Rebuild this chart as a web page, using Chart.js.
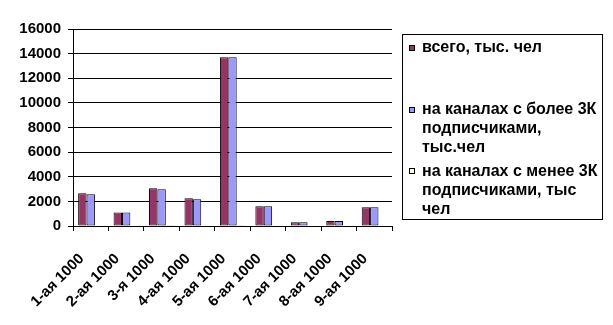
<!DOCTYPE html>
<html>
<head>
<meta charset="utf-8">
<script src="https://cdn.jsdelivr.net/npm/chart.js@4"></script>
<style>
  html, body { margin: 0; padding: 0; background: #fff; }
</style>
</head>
<body>
<canvas id="audience_chart" width="613" height="325"></canvas>
<script>
// данные по тысячам каналов
const categories = ["1-ая 1000", "2-ая 1000", "3-я 1000", "4-ая 1000", "5-ая 1000",
                    "6-ая 1000", "7-ая 1000", "8-ая 1000", "9-ая 1000"];
const seriesNames = ["всего, тыс. чел",
                     "на каналах с более 3К подписчиками, тыс.чел",
                     "на каналах с менее 3К подписчиками, тыс чел"];
const totalVals = [2650, 1100, 3060, 2250, 13700, 1600, 300, 400, 1520];
const bigVals   = [2580, 1100, 2980, 2170, 13700, 1600, 300, 400, 1520];
const smallVals = [0, 0, 60, 0, 60, 50, 0, 0, 0];
const yTicks = [0, 2000, 4000, 6000, 8000, 10000, 12000, 14000, 16000];
const colors = ["#993366", "#9999FF", "#FFFFCC"];

const FONT = "'Liberation Sans', Arial, sans-serif";

// легенда в рамке справа, как в Excel
const boxLegend = {
    id: "boxLegend",
    afterDraw(chart) {
        const ctx = chart.ctx;
        const left = 402, top = 34, right = 602, bottom = 219;
        ctx.save();
        ctx.strokeStyle = "#000";
        ctx.lineWidth = 1;
        ctx.strokeRect(left + 0.5, top + 0.5, right - left, bottom - top);
        ctx.font = "bold 16px " + FONT;
        ctx.textBaseline = "middle";
        ctx.fillStyle = "#000";
        const slot = (bottom - top) / chart.data.datasets.length;
        const maxW = right - 422 - 2;
        chart.data.datasets.forEach(function (ds, i) {
            // перенос по словам
            let lines = [], cur = "";
            ds.label.split(" ").forEach(function (w) {
                let t = cur ? cur + " " + w : w;
                if (ctx.measureText(t).width > maxW && cur) { lines.push(cur); cur = w; }
                else cur = t;
            });
            lines.push(cur);
            let y = top + 14 + i * slot;
            ctx.fillStyle = ds.backgroundColor;
            ctx.fillRect(409, Math.round(y) - 3, 6, 6);
            ctx.strokeRect(409.5, Math.round(y) - 2.5, 5, 5);
            ctx.fillStyle = "#000";
            lines.forEach(function (ln, k) {
                ctx.fillText(ln, 422, y + k * 19);
            });
        });
        ctx.restore();
    }
};

let ctx = document.getElementById("audience_chart");
let chart = new Chart(ctx, {
    type: 'bar',
    data: {
        labels: categories,
        datasets: [
            { label: seriesNames[0], data: totalVals, backgroundColor: colors[0] },
            { label: seriesNames[1], data: bigVals, backgroundColor: colors[1] },
            { label: seriesNames[2], data: smallVals, backgroundColor: colors[2] }
        ]
    },
    options: {
        responsive: false,
        animation: false,
        layout: { padding: { left: 0, top: 29, right: 221, bottom: 0 } },
        datasets: {
            bar: {
                borderColor: "#000",
                borderWidth: 1,
                borderSkipped: false,
                categoryPercentage: 0.71,
                barPercentage: 1
            }
        },
        plugins: {
            legend: { display: false },
            tooltip: { enabled: false }
        },
        scales: {
            x: {
                offset: true,
                grid: { offset: true, drawOnChartArea: false, drawTicks: true, tickLength: 5, color: "#000" },
                border: { color: "#000" },
                ticks: {
                    color: "#000",
                    font: { family: FONT, size: 15, weight: 'bold' },
                    minRotation: 45, maxRotation: 45,
                    autoSkip: false, padding: 19, labelOffset: -9
                },
                afterFit: function (s) { s.height = 99; }
            },
            y: {
                min: 0, max: 16000,
                afterBuildTicks: function (s) { s.ticks = yTicks.map(v => ({ value: v })); },
                grid: { color: "#000", tickLength: 5 },
                border: { color: "#000" },
                ticks: {
                    color: "#000",
                    font: { family: FONT, size: 15, weight: 'bold' },
                    padding: 7,
                    callback: function (v) { return String(v); }
                },
                afterFit: function (s) { s.width = 73; }
            }
        }
    },
    plugins: [boxLegend]
});
</script>
</body>
</html>
